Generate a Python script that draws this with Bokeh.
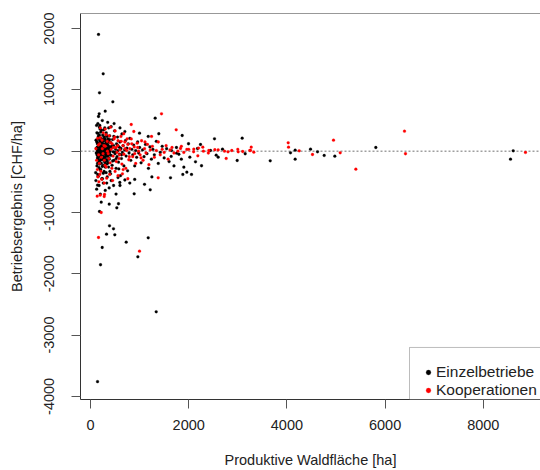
from bokeh.plotting import figure
from bokeh.models import Range1d, FixedTicker, Span, Legend, LegendItem, BoxAnnotation
from bokeh.embed import file_html
from bokeh.resources import INLINE

# ---------------- data ----------------
x_ticks = [0, 2000, 4000, 6000, 8000]
x_tick_labels = ["0", "2000", "4000", "6000", "8000"]
y_ticks = [-4000, -3000, -2000, -1000, 0, 1000, 2000]
y_tick_labels = ["-4000", "-3000", "-2000", "-1000", "0", "1000", "2000"]

series_names = ["Einzelbetriebe", "Kooperationen"]

einzel_x = [163, 258, 183, 455, 299, 177, 163, 1317, 1867, 2525, 3089,
            143, 218, 381, 570, 536, 183, 889, 1216, 597, 1629,
            238, 326, 495, 468, 387, 727, 1175, 964, 204, 1338, 143,
            3660, 4073, 4168, 4168, 4481, 4623, 4759, 4976, 5811, 8609, 8554,
            1996, 2023, 1752, 1643, 1901, 1962, 1880, 2057, 2261, 2240, 2179, 2138,
            2444, 2560, 2600, 2688, 2987, 3150,
            183, 271, 130, 150, 190, 240, 290, 350, 420, 480, 600, 700, 998, 1175, 1391,
            120, 135, 140, 150, 155, 160, 165, 170, 175, 180, 185, 190, 195, 200, 205,
            210, 215, 220, 225, 230, 235, 240, 245, 250, 255, 260, 265, 270, 275, 280,
            285, 290, 295, 300, 305, 310, 315, 320, 325, 330, 335, 340, 345, 350, 355,
            360, 365, 370, 375, 380, 385, 390, 395, 400, 410, 420, 430, 440, 450, 460,
            470, 480, 490, 500, 510, 520, 530, 540, 550, 560, 570, 580, 590, 600, 610,
            620, 630, 640, 650, 665, 680, 695, 710, 725, 740, 755, 770, 785, 800, 820,
            840, 860, 880, 900, 920, 940, 960, 980, 1000, 1030, 1060, 1090, 1120, 1150,
            1180, 1210, 1240, 1270, 1300, 1340, 1380, 1420, 1460, 1500, 1550, 1600, 1650,
            1700, 1750, 1800, 1850,
            110, 125, 145, 175, 200, 230, 260, 300, 330, 380, 420, 470, 520, 560, 600,
            700, 800, 900, 1100, 1250,
            128, 132, 138, 142, 148, 152, 158, 162, 168, 172, 178, 182, 188, 192, 198,
            202, 208, 212, 218, 222, 228, 232, 238, 242, 248, 252, 258, 262, 268, 272,
            278, 282, 288, 292, 298, 302, 308, 312, 318, 322, 328, 332, 338, 342, 348,
            352, 358, 362, 368, 372, 378, 382, 388, 392,
            105, 112, 118, 124, 131, 137, 144, 151, 157, 164, 171, 179, 186, 194, 201,
            209, 217, 226, 234, 243, 253, 264, 276, 289, 303, 318, 334, 351, 369, 388,
            408, 429, 451, 474, 498, 523, 549, 576, 604, 633]
einzel_y = [1904, 1262, 952, 805, 652, 610, 566, 539, 256, 202, 212,
            -554, -832, -864, -858, -924, -984, -696, -630, -511, -434,
            -1571, -1354, -1364, -1266, -1217, -1484, -1413, -1723, -1853, -2620, -3760,
            -157, -26, 16, -131, 33, -10, -70, -82, 60, 6, -131,
            121, -98, -33, -86, -261, -343, -380, -380, -238, 109, 44, -173,
            11, -65, -98, 33, -152, -42,
            392, 349, 300, 450, 420, 500, 380, 470, 400, 450, 380, 320, 294, 240, 284,
            50, -20, 120, -80, 200, 10, -150, 80, -40, 260, -210, 30, -90, 150, -300,
            0, 90, -60, 340, -130, 40, -250, 180, -20, 60, -360, 120, -100, 20, 230,
            -170, -40, 90, -260, 10, 160, -80, 300, -140, 50, -30, -420, 110, -60, 200,
            -190, 30, 380, -110, 70, -20, 250, -330, 0, 140, -70, 60, -230, 190, -10,
            90, -150, 330, -40, 30, -280, 120, -90, 230, 10, -180, 70, -50, 150, -400,
            40, -120, 280, -20, 90, -240, 20, 170, -80, 50, -320, 120, -30, 210, -150,
            30, -60, 100, -240, 10, -100, 150, -30, 60, -190, 20, -90, 110, -40,
            -280, 70, -130, 30, -60, 160, -200, -20, 80, -110, 40, -170, 10,
            -240, 60, -50, -130,
            -480, -620, -380, -560, -700, -450, -520, -640, -520, -600, -480, -560, -700, -430, -560,
            -470, -520, -460, -540, -420,
            150, -60, 20, -200, 70, -120, 240, -30, 110, -270, 0, -90, 170, -160, 50,
            -40, 310, -110, 20, -200, 130, -10, 70, -140, 260, -60, 30, -230, 190, -30,
            80, -120, 10, 200, -190, 100, -50, 50, -350, 140, -10, 240, -160, 40, -80,
            180, -20, 90, -260, 20, 150, -130, -50, 60,
            -350, 180, -30, 420, -240, 60, -110, 290, -410, 20, -180, 130, -70, 360, -300,
            0, 210, -130, 70, -450, 160, -20, -330, 110, -90, 270, -210, 30, -50, 190,
            -370, 80, -160, 240, -20, -120, 100, -290, 50, -60]

koop_x = [140, 160, 180, 200, 220, 240, 260, 280, 300, 320, 340, 360, 380, 400, 420,
          440, 460, 480, 500, 520, 540, 560, 580, 600, 620, 640, 660, 680, 700, 720,
          740, 760, 780, 800, 830, 860, 890, 920, 950, 980, 1010, 1040, 1070, 1100, 1130,
          1160, 1190, 1220, 1260, 1300, 1340, 1380, 1420, 1460, 1500, 1540, 1580, 1620, 1660, 1700,
          1780, 1850, 1900, 2000, 2100, 2200, 2300, 2400, 2600, 2800, 3000, 3100,
          150, 170, 190, 230, 280, 330, 390, 450, 560, 650, 760, 1378,
          136, 197, 285, 279, 218, 163, 998,
          407, 829, 1446, 1745, 882, 678, 1243, 300, 500, 200,
          4026, 4033, 3273, 3259, 3326, 4250, 4521, 4949, 5085, 5404, 6395, 6415, 8859,
          1962, 1833, 2287, 2104, 2186, 2410, 2532, 2729, 2763, 2878, 3008, 3244,
          110, 125, 145, 165, 185, 210, 235, 255, 275, 295, 315, 345, 375, 405, 435,
          465, 495, 525, 555, 590, 625, 665, 705, 745, 790, 840, 900, 960, 1030, 1110]
koop_y = [-300, 100, -200, 220, -100, 40, 300, -150, 80, -260, 160, -40, 250, -190, 30,
          120, -80, 200, -330, 60, -20, 170, -120, 20, 240, -210, 90, -50, 150, -280,
          10, 110, -140, 40, 200, -90, 70, -200, 130, 0, -60, 170, -150, 40, -30,
          110, -220, 20, 80, -100, 10, 150, -60, 30, -20, 90, -130, 20, 60, -30,
          0, 80, -20, 30, -10, 50, 0, -30, 20, -10, 30, -5,
          -420, -500, -380, -460, -520, -440, -380, -480, -400, -370, -450, -434,
          -734, -717, -706, -739, -1000, -1408, -1631,
          392, 435, 610, 349, 321, 284, 240, 360, 330, 380,
          137, 65, 65, 12, -16, 6, -54, 179, -26, -294, 326, -42, -21,
          28, 44, 65, 33, -75, 11, 23, 0, -119, 11, -10, 11,
          40, -150, 210, -60, 120, -330, 180, -40, 90, -230, 270, 0, -120, 140, -280,
          60, 230, -170, 90, -60, 160, -300, 40, 200, -90, 120, -40, 60, -110, 150]

# ---------------- figure ----------------
FONT = "Liberation Sans"
TXT = "#222222"

x_start, x_end = -204, 9165
y_start, y_end = -4051, 2246

p = figure(width=540, height=470, output_backend="svg", toolbar_location=None,
           x_range=Range1d(x_start, x_end), y_range=Range1d(y_start, y_end),
           min_border_left=80, min_border_right=0, min_border_top=13, min_border_bottom=71)
p.outline_line_color = None
p.grid.visible = False
p.background_fill_color = "white"
p.border_fill_color = "white"

# dotted zero line
p.add_layout(Span(location=0, dimension="width", line_color="#a0a0a0",
                  line_width=1.5, line_dash="2 2", level="underlay"))
# top side of the box
p.add_layout(Span(location=y_end, dimension="width", line_color="#333333", line_width=1))

rb = p.scatter(einzel_x, einzel_y, marker="circle", size=2.8,
               fill_color="black", line_color="black", line_width=0.3)
rr = p.scatter(koop_x, koop_y, marker="circle", size=2.8,
               fill_color="#ff0000", line_color="#ff0000", line_width=0.3)

for ax, ticks, labels in ((p.xaxis[0], x_ticks, x_tick_labels), (p.yaxis[0], y_ticks, y_tick_labels)):
    ax.ticker = FixedTicker(ticks=ticks)
    ax.major_label_overrides = {t: l for t, l in zip(ticks, labels)}
    ax.axis_line_color = "#333333"
    ax.axis_line_width = 1
    ax.major_tick_line_color = "#555555"
    ax.major_tick_out = 9
    ax.major_tick_in = 0
    ax.minor_tick_line_color = None
    ax.major_label_text_font = FONT
    ax.major_label_text_font_size = "14.5px"
    ax.major_label_text_color = TXT
    ax.axis_label_text_font = FONT
    ax.axis_label_text_font_size = "14.5px"
    ax.axis_label_text_font_style = "normal"
    ax.axis_label_text_color = TXT

p.xaxis.axis_label = "Produktive Waldfläche [ha]"
p.yaxis.axis_label = "Betriebsergebnis [CHF/ha]"
p.xaxis.major_label_standoff = 11
p.xaxis.axis_label_standoff = 19
p.yaxis.major_label_orientation = "vertical"
p.yaxis.major_label_standoff = 17
p.yaxis.axis_label_standoff = 17

# legend box
p.add_layout(BoxAnnotation(left=6497, right=x_end + 800, bottom=y_start, top=-3202,
                           fill_color="white", fill_alpha=1.0,
                           line_color="#222222", line_width=1, level="annotation"))
legend = Legend(items=[LegendItem(label=series_names[0], renderers=[rb]),
                       LegendItem(label=series_names[1], renderers=[rr])],
                location=(342, 0), padding=8, spacing=0, margin=0,
                glyph_width=12, glyph_height=12, label_height=18, label_standoff=2,
                border_line_color=None, background_fill_alpha=0.0,
                label_text_font=FONT, label_text_font_size="15.5px", label_text_color=TXT)
p.add_layout(legend, "center")

open("out.html", "w").write(file_html(p, INLINE))
